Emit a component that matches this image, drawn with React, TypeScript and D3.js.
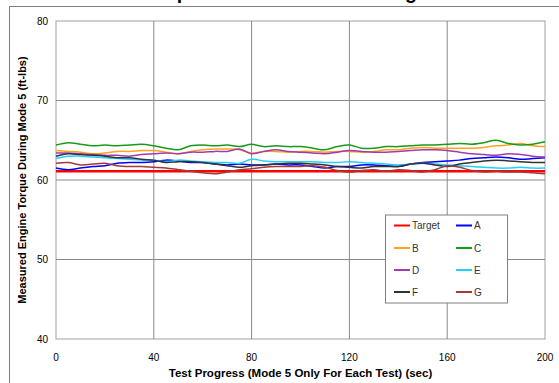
import React from "react";
import * as d3 from "d3";

// Time axis: one sample every 5 seconds across Mode 5
const seconds: number[] = d3.range(0, 201, 5);

const target: number[] = seconds.map(() => 61.1);

const testA: number[] = [61.5, 61.3, 61.5, 61.7, 61.8, 62.1, 62.2, 62.2, 62.3, 62.5, 62.4, 62.2, 62.2, 62.0, 61.9, 62.0, 61.9, 61.9, 62.0, 61.9, 61.9, 61.7, 61.5, 61.7, 61.7, 61.9, 61.9, 61.8, 61.7, 62.0, 62.2, 62.3, 62.4, 62.5, 62.7, 62.8, 62.9, 62.8, 62.6, 62.7, 62.8];
const testB: number[] = [63.7, 63.6, 63.5, 63.3, 63.4, 63.6, 63.6, 63.7, 63.7, 63.5, 63.3, 63.6, 63.8, 63.9, 63.9, 63.8, 63.4, 63.6, 63.6, 63.5, 63.6, 63.6, 63.5, 63.6, 63.6, 63.5, 63.6, 63.8, 63.8, 64.0, 64.1, 64.0, 64.0, 64.0, 64.0, 64.1, 64.3, 64.4, 64.6, 64.3, 64.2];
const testC: number[] = [64.4, 64.7, 64.5, 64.3, 64.4, 64.3, 64.4, 64.5, 64.3, 64.0, 63.8, 64.3, 64.4, 64.3, 64.4, 64.2, 64.5, 64.2, 64.3, 64.2, 64.2, 64.0, 63.8, 64.2, 64.4, 64.0, 64.0, 64.2, 64.2, 64.3, 64.4, 64.4, 64.5, 64.6, 64.5, 64.7, 65.0, 64.6, 64.4, 64.5, 64.8];
const testD: number[] = [63.4, 63.4, 63.3, 63.2, 63.1, 63.1, 63.0, 63.2, 63.3, 63.4, 63.3, 63.5, 63.5, 63.6, 63.6, 63.9, 63.3, 63.6, 63.8, 63.6, 63.5, 63.4, 63.3, 63.5, 63.7, 63.6, 63.5, 63.5, 63.6, 63.7, 63.8, 63.8, 63.7, 63.5, 63.3, 63.2, 63.1, 63.3, 63.2, 63.0, 62.9];
const testE: number[] = [62.7, 63.0, 63.0, 62.9, 62.8, 62.7, 62.6, 62.5, 62.5, 62.3, 62.5, 62.4, 62.3, 62.2, 62.2, 62.1, 62.6, 62.4, 62.3, 62.3, 62.3, 62.3, 62.2, 62.2, 62.3, 62.2, 62.1, 62.0, 61.9, 62.0, 62.1, 62.0, 61.9, 61.8, 61.7, 61.6, 61.5, 61.5, 61.6, 61.5, 61.5];
const testF: number[] = [63.0, 63.3, 63.2, 63.1, 63.0, 62.8, 62.8, 62.6, 62.5, 62.2, 62.3, 62.3, 62.2, 62.0, 61.8, 61.6, 61.8, 61.9, 62.0, 62.1, 62.1, 62.0, 61.9, 61.7, 61.6, 61.5, 61.7, 61.7, 61.7, 62.0, 62.1, 61.9, 61.7, 62.0, 62.2, 62.4, 62.5, 62.4, 62.3, 62.2, 62.2];
const testG: number[] = [62.1, 62.2, 61.9, 62.0, 62.1, 61.8, 61.7, 61.7, 61.6, 61.5, 61.3, 61.1, 60.9, 60.8, 61.0, 61.3, 61.4, 61.6, 61.7, 61.7, 61.7, 61.8, 61.6, 61.2, 61.0, 61.2, 61.3, 61.1, 61.3, 61.2, 61.0, 61.3, 61.8, 61.6, 61.2, 61.0, 61.1, 61.0, 61.0, 60.9, 60.8];

const seriesNames: string[] = ["Target", "A", "B", "C", "D", "E", "F", "G"];
const seriesValues: number[][] = [target, testA, testB, testC, testD, testE, testF, testG];
const seriesColors: string[] = ["#ff0000", "#0000ff", "#ffa21f", "#1a9a1a", "#a03cb0", "#22d0ff", "#333333", "#a33a3a"];

const xTicks: number[] = [0, 40, 80, 120, 160, 200];
const yTicks: number[] = [40, 50, 60, 70, 80];

const FONT = "Arial, 'Liberation Sans', sans-serif";

export default function App() {
  const left = 56, right = 545, top = 21, bottom = 339;
  const x = d3.scaleLinear().domain([0, 200]).range([left, right]);
  const y = d3.scaleLinear().domain([40, 80]).range([bottom, top]);

  const line = d3
    .line<number>()
    .x((_, i) => x(seconds[i]))
    .y((d) => y(d))
    .curve(d3.curveCatmullRom);

  // Legend layout
  const lgX = 385.5, lgY = 215, lgW = 122, lgH = 88;
  const rowYs = [225.5, 248, 270, 292];
  const colXs = [394, 456];

  return (
    <svg
      width={559}
      height={383}
      style={{ position: "absolute", left: 0, top: 0, background: "#fff" }}
      fontFamily={FONT}
    >
      {/* chart area frame */}
      <rect x={9.5} y={6.5} width={600} height={400} fill="#fff" stroke="#808080" strokeWidth={1} />

      {/* title, running off the top edge */}
      <text x={299} y={-1.5} textAnchor="middle" fontSize={19.5} fontWeight="bold" fill="#000">
        Comparison of Mode 5 Testing Data
      </text>

      {/* plot area */}
      <rect x={left} y={top} width={right - left} height={bottom - top} fill="#fff" stroke="#a0a0a0" strokeWidth={1} />

      {/* gridlines */}
      {xTicks.slice(1, -1).map((t) => (
        <line key={"gx" + t} x1={x(t)} x2={x(t)} y1={top} y2={bottom} stroke="#8a8a8a" strokeWidth={1} />
      ))}
      {yTicks.slice(1, -1).map((t) => (
        <line key={"gy" + t} x1={left} x2={right} y1={y(t)} y2={y(t)} stroke="#8a8a8a" strokeWidth={1} />
      ))}

      {/* series */}
      {seriesValues.map((vals, i) => (
        <path
          key={seriesNames[i]}
          d={line(vals) || ""}
          fill="none"
          stroke={seriesColors[i]}
          strokeWidth={i === 0 ? 2.5 : 1.5}
          strokeLinejoin="round"
        />
      ))}

      {/* y tick labels */}
      {yTicks.map((t) => (
        <text key={"yl" + t} x={48} y={y(t)} dy="0.35em" textAnchor="end" fontSize={10} fill="#000">
          {t}
        </text>
      ))}
      {/* x tick labels */}
      {xTicks.map((t) => (
        <text key={"xl" + t} x={x(t)} y={361} textAnchor="middle" fontSize={10} fill="#000">
          {t}
        </text>
      ))}

      {/* axis titles */}
      <text
        transform={`translate(26,${(top + bottom) / 2}) rotate(-90)`}
        textAnchor="middle"
        fontSize={11}
        fontWeight="bold"
        fill="#000"
      >
        Measured Engine Torque During Mode 5 (ft-lbs)
      </text>
      <text x={(left + right) / 2} y={377} textAnchor="middle" fontSize={11.5} fontWeight="bold" fill="#000">
        Test Progress (Mode 5 Only For Each Test) (sec)
      </text>

      {/* legend */}
      <rect x={lgX} y={lgY} width={lgW} height={lgH} fill="#fff" stroke="#808080" strokeWidth={1} />
      {seriesNames.map((name, i) => {
        const cx = colXs[i % 2];
        const cy = rowYs[Math.floor(i / 2)];
        return (
          <g key={"lg" + name}>
            <line x1={cx} x2={cx + 16} y1={cy} y2={cy} stroke={seriesColors[i]} strokeWidth={2} />
            <text x={cx + 18} y={cy} dy="0.35em" fontSize={10} fill="#333">
              {name}
            </text>
          </g>
        );
      })}
    </svg>
  );
}
